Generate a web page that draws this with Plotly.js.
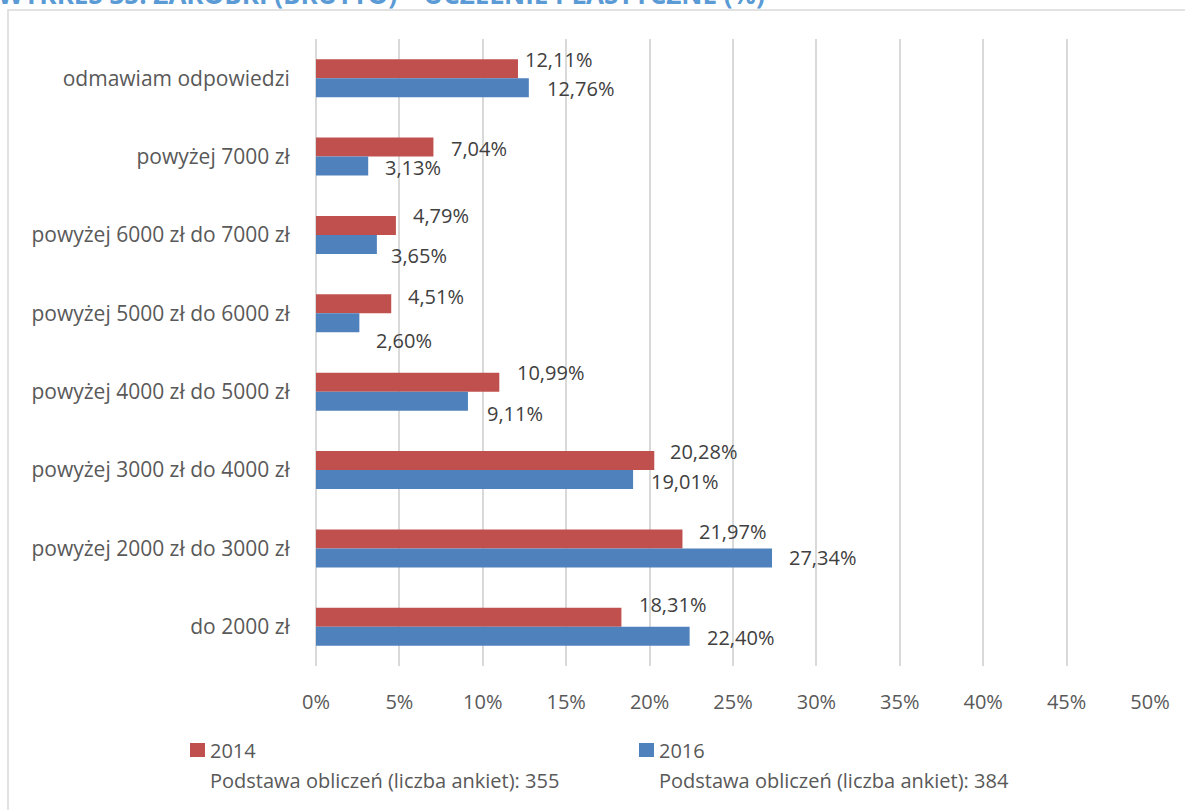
<!DOCTYPE html>
<html>
<head>
<meta charset="utf-8">
<script src="https://cdn.plot.ly/plotly-3.0.1.min.js"></script>
<style>html,body{margin:0;padding:0;background:#fff;}#chart{width:1185px;height:810px;}</style>
</head>
<body>
<div id="chart"></div>
<script>
// ---- data ----
const categories = [
  "odmawiam odpowiedzi",
  "powyżej 7000 zł",
  "powyżej 6000 zł do 7000 zł",
  "powyżej 5000 zł do 6000 zł",
  "powyżej 4000 zł do 5000 zł",
  "powyżej 3000 zł do 4000 zł",
  "powyżej 2000 zł do 3000 zł",
  "do 2000 zł"
];
const values2014 = [12.11, 7.04, 4.79, 4.51, 10.99, 20.28, 21.97, 18.31];
const values2016 = [12.76, 3.13, 3.65, 2.60, 9.11, 19.01, 27.34, 22.40];
const seriesNames = ["2014", "2016"];
const sampleNotes = ["Podstawa obliczeń (liczba ankiet): 355", "Podstawa obliczeń (liczba ankiet): 384"];
const xTickValues = [0, 5, 10, 15, 20, 25, 30, 35, 40, 45, 50];
const titleText = "WYKRES 35. ZAROBKI (BRUTTO) – UCZELNIE PLASTYCZNE (%)";

// label nudges (px) - style only, mimicking manually placed data labels
const nudgeX2014 = [5, 16, 15, 15, 16, 14, 15, 16];
const nudgeY2014 = [19, 8.5, 19.5, 17, 18.7, 18.5, 17, 22.5];
const nudgeX2016 = [16, 15, 12, 15, 17, 16, 15, 15];
const nudgeY2016 = [-10.5, -11, -21, -27, -21.5, -11.5, -9.5, -10.5];

const RED = "#C0504D", BLUE = "#4F81BD", TXT = "#595959", GRID = "#D9D9D9";
const COLORS = [RED, BLUE];
const FONT = "'Open Sans', sans-serif";
const fmt = v => v.toFixed(2).replace('.', ',') + '%';

// pixel -> paper helpers (plot area: x 316..1150, y 39..666)
const px = x => (x - 316) / 834;
const py = y => (666 - y) / 627;

const traces = [
  {type: 'bar', orientation: 'h', name: seriesNames[0], y: categories, x: values2014,
   marker: {color: RED}, hoverinfo: 'skip', showlegend: false},
  {type: 'bar', orientation: 'h', name: seriesNames[1], y: categories, x: values2016,
   marker: {color: BLUE}, hoverinfo: 'skip', showlegend: false}
];

const annotations = [];
categories.forEach((c, i) => {
  annotations.push({x: values2014[i], y: c, xref: 'x', yref: 'y', text: fmt(values2014[i]),
    showarrow: false, xanchor: 'left', yanchor: 'middle', xshift: nudgeX2014[i], yshift: nudgeY2014[i],
    font: {family: FONT, size: 20, color: '#404040'}});
  annotations.push({x: values2016[i], y: c, xref: 'x', yref: 'y', text: fmt(values2016[i]),
    showarrow: false, xanchor: 'left', yanchor: 'middle', xshift: nudgeX2016[i], yshift: nudgeY2016[i],
    font: {family: FONT, size: 20, color: '#404040'}});
});

// legend (drawn manually to match the compact key) + sample-size notes
const legendX = [190, 639];
const shapes = [];
seriesNames.forEach((name, k) => {
  shapes.push({type: 'rect', xref: 'paper', yref: 'paper',
    x0: px(legendX[k]), x1: px(legendX[k] + 15), y0: py(757), y1: py(743),
    fillcolor: COLORS[k], line: {width: 0}});
  annotations.push({xref: 'paper', yref: 'paper', x: px(legendX[k] + 18), y: py(750),
    xanchor: 'left', yanchor: 'middle', showarrow: false, text: name,
    font: {family: FONT, size: 20, color: TXT}});
  annotations.push({xref: 'paper', yref: 'paper', x: px(legendX[k] + 18), y: py(780),
    xanchor: 'left', yanchor: 'middle', showarrow: false, text: sampleNotes[k],
    font: {family: FONT, size: 20, color: TXT}});
});

// cropped title at the very top
annotations.push({xref: 'paper', yref: 'paper', x: px(-4), y: py(14),
  xanchor: 'left', yanchor: 'bottom', showarrow: false, text: '<b>' + titleText + '</b>',
  font: {family: FONT, size: 26, color: '#5B9BD5'}});

// outer chart frame
shapes.push({type: 'rect', xref: 'paper', yref: 'paper', layer: 'below',
  x0: px(8), x1: 1.4, y0: -0.6, y1: py(10),
  line: {color: GRID, width: 1.5}, fillcolor: 'rgba(0,0,0,0)'});

const layout = {
  width: 1185, height: 810,
  margin: {l: 316, r: 35, t: 39, b: 144},
  paper_bgcolor: '#fff', plot_bgcolor: '#fff',
  barmode: 'group', bargap: 0.515, bargroupgap: 0,
  showlegend: false,
  xaxis: {range: [0, 50], tickvals: xTickValues, ticktext: xTickValues.map(v => v + '%'),
    showgrid: true, gridcolor: GRID, gridwidth: 2, zeroline: true, zerolinecolor: GRID, zerolinewidth: 2,
    showline: false, ticks: 'outside', ticklen: 18, tickcolor: 'rgba(0,0,0,0)',
    tickfont: {family: FONT, size: 20, color: TXT}, fixedrange: true},
  yaxis: {type: 'category', categoryorder: 'array', categoryarray: categories, autorange: 'reversed',
    showgrid: false, zeroline: false, showline: false, ticks: 'outside', ticklen: 21, tickcolor: 'rgba(0,0,0,0)',
    tickfont: {family: FONT, size: 21, color: TXT}, fixedrange: true},
  annotations: annotations,
  shapes: shapes,
  hovermode: false
};

Plotly.newPlot('chart', traces, layout, {displayModeBar: false, staticPlot: true});
</script>
</body>
</html>
